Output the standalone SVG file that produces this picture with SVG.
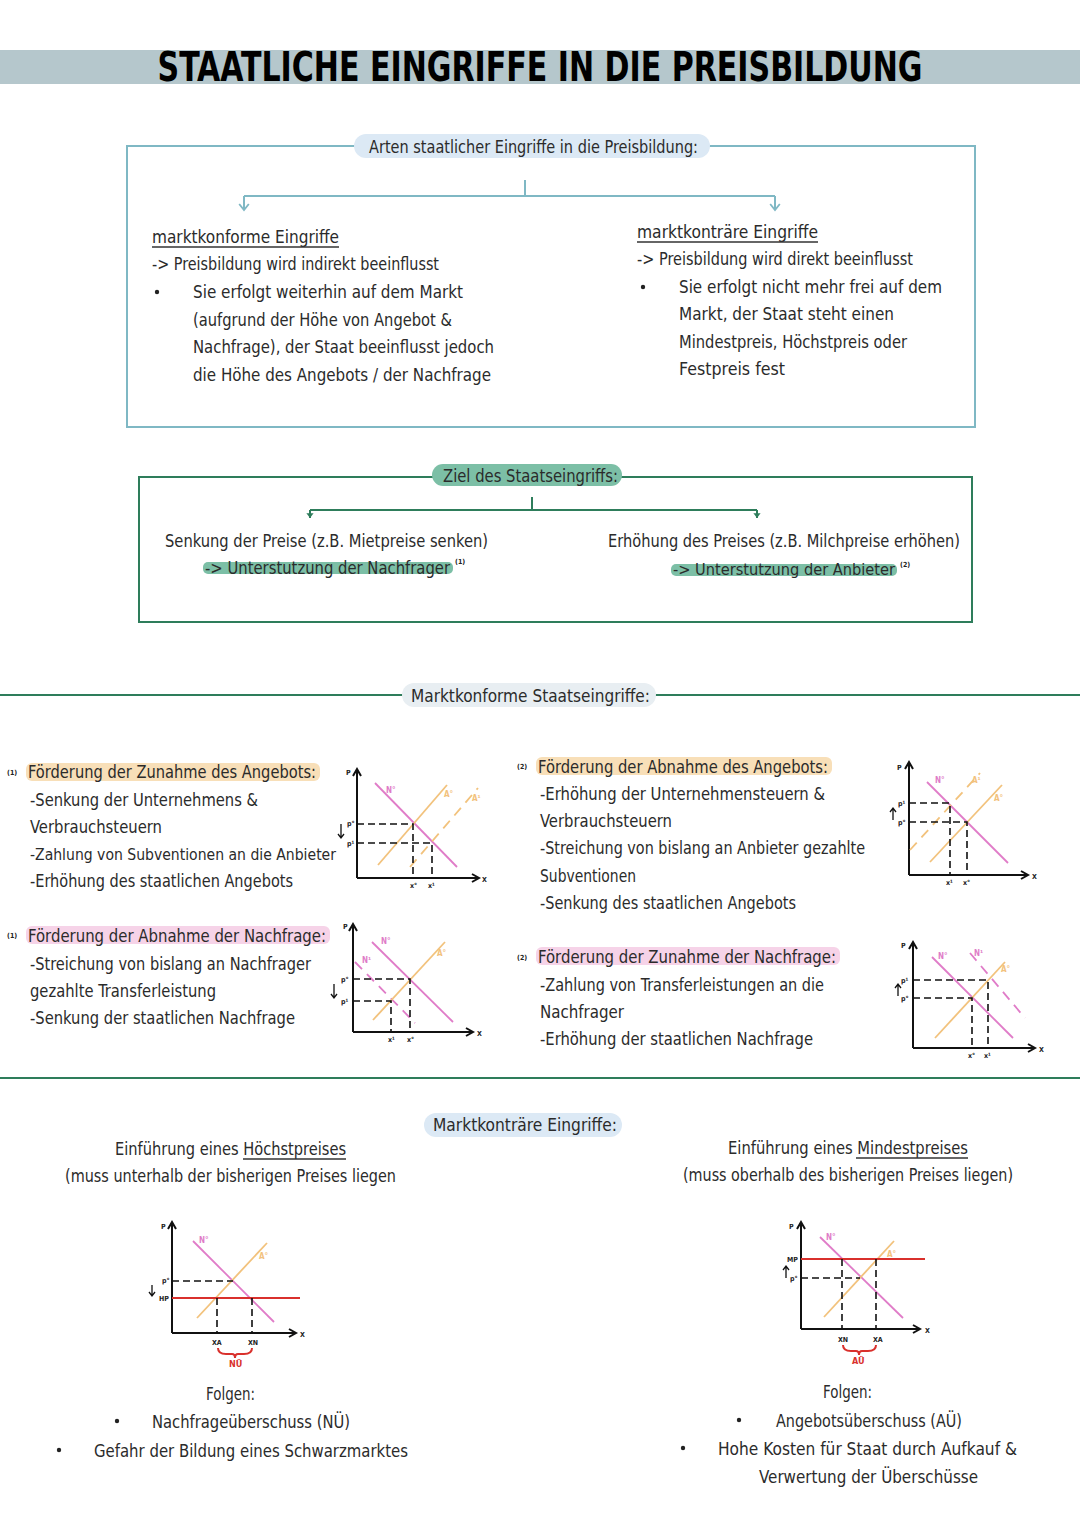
<svg xmlns="http://www.w3.org/2000/svg" width="1080" height="1527" viewBox="0 0 1080 1527">
<defs>
<style>
.t{font-family:"DejaVu Sans Condensed","Liberation Sans",sans-serif;font-size:18px;fill:#2b2b2b}
.t17{font-size:17px}
.t16{font-size:16px}
.s{font-family:"DejaVu Sans Condensed","Liberation Sans",sans-serif;font-size:7px;font-weight:bold;fill:#222}
.sp{font-family:"DejaVu Sans Condensed","Liberation Sans",sans-serif;font-size:8px;font-weight:bold;fill:#e07cc8}
.so{font-family:"DejaVu Sans Condensed","Liberation Sans",sans-serif;font-size:8px;font-weight:bold;fill:#f2c27c}
.ax{fill:none;stroke:#111;stroke-width:2}
.dash{fill:none;stroke:#111;stroke-width:1.6;stroke-dasharray:7 4}
.N{stroke:#e07cc8;stroke-width:1.8;fill:none}
.Nd{stroke:#e07cc8;stroke-width:1.8;fill:none;stroke-dasharray:10 7}
.A{stroke:#f2c27c;stroke-width:1.8;fill:none}
.Ad{stroke:#f2c27c;stroke-width:1.8;fill:none;stroke-dasharray:10 7}
.red{stroke:#d9302c;stroke-width:2;fill:none}
.blue{stroke:#7fb8c4;stroke-width:2;fill:none}
.green{stroke:#2e7d5b;stroke-width:2;fill:none}
.ul{stroke:#333;stroke-width:1.5}
</style>
<marker id="ab" viewBox="0 0 10 10" refX="8" refY="5" markerWidth="6" markerHeight="6" orient="auto"><path d="M3 1 L8 5 L3 9" fill="none" stroke="#7fb8c4" stroke-width="1.5"/></marker>
<marker id="ag" viewBox="0 0 10 10" refX="8" refY="5" markerWidth="6" markerHeight="6" orient="auto"><path d="M4 2 L8 5 L4 8 Z" fill="#2e7d5b"/></marker>
</defs>
<rect width="1080" height="1527" fill="#ffffff"/>

<g id="title">
<rect x="0" y="50" width="1080" height="34" fill="#b5c7cc"/>
<text x="540" y="81" text-anchor="middle" textLength="765" lengthAdjust="spacingAndGlyphs" style="font-family:'DejaVu Sans Condensed','Liberation Sans',sans-serif;font-size:40px;font-weight:bold;fill:#000">STAATLICHE EINGRIFFE IN DIE PREISBILDUNG</text>
</g>

<g id="box-arten">
<rect x="127" y="146" width="848" height="281" class="blue"/>
<rect x="354" y="134" width="356" height="24" rx="12" fill="#dce9f5"/>
<text class="t" x="369" y="153" textLength="329" lengthAdjust="spacingAndGlyphs">Arten staatlicher Eingriffe in die Preisbildung:</text>
</g>

<g id="node-konform">
<text class="t" x="152" y="243" textLength="187" lengthAdjust="spacingAndGlyphs">marktkonforme Eingriffe</text>
<line x1="152" y1="247" x2="339" y2="247" class="ul"/>
<text class="t" x="152" y="270" textLength="287" lengthAdjust="spacingAndGlyphs">-&gt; Preisbildung wird indirekt beeinflusst</text>
<circle cx="157" cy="292" r="2.2" fill="#222"/>
<text class="t" x="193" y="298" textLength="270" lengthAdjust="spacingAndGlyphs">Sie erfolgt weiterhin auf dem Markt</text>
<text class="t" x="193" y="326" textLength="259" lengthAdjust="spacingAndGlyphs">(aufgrund der Höhe von Angebot &amp;</text>
<text class="t" x="193" y="353" textLength="301" lengthAdjust="spacingAndGlyphs">Nachfrage), der Staat beeinflusst jedoch</text>
<text class="t" x="193" y="381" textLength="298" lengthAdjust="spacingAndGlyphs">die Höhe des Angebots / der Nachfrage</text>
</g>

<g id="node-kontraer">
<text class="t" x="637" y="238" textLength="181" lengthAdjust="spacingAndGlyphs">marktkonträre Eingriffe</text>
<line x1="637" y1="242" x2="818" y2="242" class="ul"/>
<text class="t" x="637" y="265" textLength="276" lengthAdjust="spacingAndGlyphs">-&gt; Preisbildung wird direkt beeinflusst</text>
<circle cx="643" cy="287" r="2.2" fill="#222"/>
<text class="t" x="679" y="293" textLength="263" lengthAdjust="spacingAndGlyphs">Sie erfolgt nicht mehr frei auf dem</text>
<text class="t" x="679" y="320" textLength="215" lengthAdjust="spacingAndGlyphs">Markt, der Staat steht einen</text>
<text class="t" x="679" y="348" textLength="228" lengthAdjust="spacingAndGlyphs">Mindestpreis, Höchstpreis oder</text>
<text class="t" x="679" y="375" textLength="106" lengthAdjust="spacingAndGlyphs">Festpreis fest</text>
</g>

<g id="box-ziel">
<rect x="139" y="477" width="833" height="145" class="green"/>
<rect x="432" y="464" width="190" height="22" rx="11" fill="#7cbfa6"/>
<text class="t" x="443" y="482" textLength="175" lengthAdjust="spacingAndGlyphs">Ziel des Staatseingriffs:</text>
</g>

<g id="node-senkung">
<text class="t" x="165" y="547" textLength="323" lengthAdjust="spacingAndGlyphs">Senkung der Preise (z.B. Mietpreise senken)</text>
<rect x="203" y="562" width="250" height="12" rx="5" fill="#7cbfa6"/>
<text class="t t17" x="205" y="574" textLength="245" lengthAdjust="spacingAndGlyphs">-&gt; Unterstutzung der Nachfrager</text>
<text class="s" x="455" y="564">(1)</text>
</g>

<g id="node-erhoehung">
<text class="t" x="608" y="547" textLength="352" lengthAdjust="spacingAndGlyphs">Erhöhung des Preises (z.B. Milchpreise erhöhen)</text>
<rect x="671" y="564" width="226" height="12" rx="5" fill="#7cbfa6"/>
<text class="t t16" x="673" y="575" textLength="222" lengthAdjust="spacingAndGlyphs">-&gt; Unterstutzung der Anbieter</text>
<text class="s" x="900" y="567">(2)</text>
</g>

<g id="connectors">
<path d="M525 180 V196 M244 196 H775" class="blue" stroke-width="1.5"/>
<line x1="244" y1="196" x2="244" y2="210" class="blue" stroke-width="1.5" marker-end="url(#ab)"/>
<line x1="775" y1="196" x2="775" y2="210" class="blue" stroke-width="1.5" marker-end="url(#ab)"/>
<path d="M532 497 V510 M310 510 H757" class="green" stroke-width="1.5"/>
<line x1="310" y1="510" x2="310" y2="518" class="green" stroke-width="1.5" marker-end="url(#ag)"/>
<line x1="757" y1="510" x2="757" y2="518" class="green" stroke-width="1.5" marker-end="url(#ag)"/>
</g>

<g id="section-konform">
<line x1="0" y1="695" x2="1080" y2="695" class="green" stroke-width="1.5"/>
<rect x="402" y="683" width="254" height="24" rx="12" fill="#e8eef2"/>
<text class="t" x="411" y="702" textLength="239" lengthAdjust="spacingAndGlyphs">Marktkonforme Staatseingriffe:</text>
<line x1="0" y1="1078" x2="1080" y2="1078" class="green" stroke-width="1.5"/>
</g>

<g id="node-zunahme-angebot">
<text class="s" x="7" y="775">(1)</text>
<rect x="26" y="763" width="294" height="18" rx="6" fill="#f8dfb8"/>
<text class="t" x="28" y="778" textLength="288" lengthAdjust="spacingAndGlyphs">Förderung der Zunahme des Angebots:</text>
<text class="t" x="30" y="806" textLength="228" lengthAdjust="spacingAndGlyphs">-Senkung der Unternehmens &amp;</text>
<text class="t" x="30" y="833" textLength="132" lengthAdjust="spacingAndGlyphs">Verbrauchsteuern</text>
<text class="t t16" x="30" y="860" textLength="306" lengthAdjust="spacingAndGlyphs">-Zahlung von Subventionen an die Anbieter</text>
<text class="t" x="30" y="887" textLength="263" lengthAdjust="spacingAndGlyphs">-Erhöhung des staatlichen Angebots</text>
</g>

<g id="graph-1">
<path d="M357 878 V770 M353 776 L357 769 L361 776 M357 878 H478 M472 874 L479 878 L472 882" class="ax"/>
<text class="s" x="346" y="775">P</text>
<text class="s" x="482" y="882">X</text>
<line x1="375" y1="783" x2="457" y2="867" class="N"/>
<text class="sp" x="386" y="793">N°</text>
<line x1="378" y1="865" x2="447" y2="785" class="A"/>
<text class="so" x="444" y="797">A°</text>
<line x1="410" y1="867" x2="478" y2="788" class="Ad"/>
<text class="so" x="472" y="801">A¹</text>
<path d="M357 824 H413 V878 M357 843 H432 V878" class="dash"/>
<text class="s" x="347" y="826">p°</text>
<text class="s" x="347" y="846">p¹</text>
<text class="s" x="410" y="888">x°</text>
<text class="s" x="428" y="888">x¹</text>
<path d="M341 824 V838 M338 834 L341 838 L344 834" stroke="#111" stroke-width="1.3" fill="none"/>
</g>

<g id="node-abnahme-angebot">
<text class="s" x="517" y="769">(2)</text>
<rect x="536" y="757" width="296" height="18" rx="6" fill="#f8dfb8"/>
<text class="t" x="538" y="773" textLength="290" lengthAdjust="spacingAndGlyphs">Förderung der Abnahme des Angebots:</text>
<text class="t" x="540" y="800" textLength="285" lengthAdjust="spacingAndGlyphs">-Erhöhung der Unternehmensteuern &amp;</text>
<text class="t" x="540" y="827" textLength="132" lengthAdjust="spacingAndGlyphs">Verbrauchsteuern</text>
<text class="t" x="540" y="854" textLength="325" lengthAdjust="spacingAndGlyphs">-Streichung von bislang an Anbieter gezahlte</text>
<text class="t" x="540" y="882" textLength="96" lengthAdjust="spacingAndGlyphs">Subventionen</text>
<text class="t" x="540" y="909" textLength="256" lengthAdjust="spacingAndGlyphs">-Senkung des staatlichen Angebots</text>
</g>

<g id="graph-2">
<path d="M909 875 V763 M905 769 L909 762 L913 769 M909 875 H1027 M1021 871 L1028 875 L1021 879" class="ax"/>
<text class="s" x="897" y="770">P</text>
<text class="s" x="1032" y="879">X</text>
<line x1="927" y1="782" x2="1008" y2="863" class="N"/>
<text class="sp" x="935" y="783">N°</text>
<line x1="930" y1="862" x2="1002" y2="785" class="A"/>
<text class="so" x="994" y="801">A°</text>
<line x1="910" y1="850" x2="980" y2="773" class="Ad"/>
<text class="so" x="972" y="783">A¹</text>
<path d="M909 803 H950 V875 M909 822 H967 V875" class="dash"/>
<text class="s" x="898" y="806">p¹</text>
<text class="s" x="898" y="825">p°</text>
<text class="s" x="946" y="885">x¹</text>
<text class="s" x="963" y="885">x°</text>
<path d="M893 820 V808 M890 812 L893 808 L896 812" stroke="#111" stroke-width="1.3" fill="none"/>
</g>

<g id="node-abnahme-nachfrage">
<text class="s" x="7" y="938">(1)</text>
<rect x="26" y="926" width="304" height="18" rx="6" fill="#f6d3e8"/>
<text class="t t17" x="28" y="942" textLength="298" lengthAdjust="spacingAndGlyphs">Förderung der Abnahme der Nachfrage:</text>
<text class="t" x="30" y="970" textLength="281" lengthAdjust="spacingAndGlyphs">-Streichung von bislang an Nachfrager</text>
<text class="t" x="30" y="997" textLength="186" lengthAdjust="spacingAndGlyphs">gezahlte Transferleistung</text>
<text class="t" x="30" y="1024" textLength="265" lengthAdjust="spacingAndGlyphs">-Senkung der staatlichen Nachfrage</text>
</g>

<g id="graph-3">
<path d="M353 1032 V925 M349 931 L353 924 L357 931 M353 1032 H472 M466 1028 L473 1032 L466 1036" class="ax"/>
<text class="s" x="343" y="929">P</text>
<text class="s" x="477" y="1036">X</text>
<line x1="372" y1="942" x2="453" y2="1022" class="N"/>
<text class="sp" x="381" y="944">N°</text>
<line x1="355" y1="962" x2="415" y2="1023" class="Nd"/>
<text class="sp" x="362" y="963">N¹</text>
<line x1="373" y1="1020" x2="445" y2="942" class="A"/>
<text class="so" x="437" y="956">A°</text>
<path d="M353 979 H410 V1032 M353 1001 H391 V1032" class="dash"/>
<text class="s" x="341" y="982">p°</text>
<text class="s" x="341" y="1004">p¹</text>
<text class="s" x="388" y="1042">x¹</text>
<text class="s" x="407" y="1042">x°</text>
<path d="M334 984 V998 M331 994 L334 998 L337 994" stroke="#111" stroke-width="1.3" fill="none"/>
</g>

<g id="node-zunahme-nachfrage">
<text class="s" x="517" y="960">(2)</text>
<rect x="536" y="947" width="304" height="18" rx="6" fill="#f6d3e8"/>
<text class="t" x="538" y="963" textLength="298" lengthAdjust="spacingAndGlyphs">Förderung der Zunahme der Nachfrage:</text>
<text class="t" x="540" y="991" textLength="284" lengthAdjust="spacingAndGlyphs">-Zahlung von Transferleistungen an die</text>
<text class="t" x="540" y="1018" textLength="84" lengthAdjust="spacingAndGlyphs">Nachfrager</text>
<text class="t" x="540" y="1045" textLength="273" lengthAdjust="spacingAndGlyphs">-Erhöhung der staatlichen Nachfrage</text>
</g>

<g id="graph-4">
<path d="M913 1048 V943 M909 949 L913 942 L917 949 M913 1048 H1034 M1028 1044 L1035 1048 L1028 1052" class="ax"/>
<text class="s" x="901" y="948">P</text>
<text class="s" x="1039" y="1052">X</text>
<line x1="932" y1="957" x2="1013" y2="1038" class="N"/>
<text class="sp" x="938" y="959">N°</text>
<line x1="970" y1="953" x2="1025" y2="1018" class="Nd"/>
<text class="sp" x="974" y="956">N¹</text>
<line x1="935" y1="1038" x2="1005" y2="962" class="A"/>
<text class="so" x="1001" y="972">A°</text>
<path d="M913 980 H988 V1048 M913 998 H972 V1048" class="dash"/>
<text class="s" x="901" y="983">p¹</text>
<text class="s" x="901" y="1001">p°</text>
<text class="s" x="968" y="1058">x°</text>
<text class="s" x="984" y="1058">x¹</text>
<path d="M898 996 V984 M895 988 L898 984 L901 988" stroke="#111" stroke-width="1.3" fill="none"/>
</g>

<g id="node-kontraer-title">
<rect x="424" y="1113" width="198" height="24" rx="12" fill="#dce9f5"/>
<text class="t" x="433" y="1131" textLength="184" lengthAdjust="spacingAndGlyphs">Marktkonträre Eingriffe:</text>
</g>

<g id="node-hoechstpreis">
<text class="t" x="115" y="1155" textLength="231" lengthAdjust="spacingAndGlyphs">Einführung eines Höchstpreises</text>
<line x1="243" y1="1159" x2="346" y2="1159" class="ul"/>
<text class="t" x="65" y="1182" textLength="331" lengthAdjust="spacingAndGlyphs">(muss unterhalb der bisherigen Preises liegen</text>
<text class="t" x="206" y="1400" textLength="49" lengthAdjust="spacingAndGlyphs">Folgen:</text>
<circle cx="117" cy="1421" r="2.2" fill="#222"/>
<text class="t" x="152" y="1428" textLength="198" lengthAdjust="spacingAndGlyphs">Nachfrageüberschuss (NÜ)</text>
<circle cx="59" cy="1450" r="2.2" fill="#222"/>
<text class="t" x="94" y="1457" textLength="314" lengthAdjust="spacingAndGlyphs">Gefahr der Bildung eines Schwarzmarktes</text>
</g>

<g id="graph-5">
<path d="M172 1333 V1223 M168 1229 L172 1222 L176 1229 M172 1333 H295 M289 1329 L296 1333 L289 1337" class="ax"/>
<text class="s" x="161" y="1229">P</text>
<text class="s" x="300" y="1337">X</text>
<line x1="193" y1="1241" x2="274" y2="1322" class="N"/>
<text class="sp" x="199" y="1243">N°</text>
<line x1="197" y1="1318" x2="267" y2="1243" class="A"/>
<text class="so" x="259" y="1259">A°</text>
<path d="M172 1281 H233" class="dash"/>
<line x1="172" y1="1298" x2="300" y2="1298" class="red"/>
<path d="M217 1298 V1333 M252 1298 V1333" class="dash"/>
<text class="s" x="162" y="1283">p°</text>
<text class="s" x="159" y="1301">HP</text>
<path d="M152 1285 V1296 M149 1292 L152 1296 L155 1292" stroke="#111" stroke-width="1.3" fill="none"/>
<text class="s" x="212" y="1345">XA</text>
<text class="s" x="248" y="1345">XN</text>
<path d="M218 1348 Q218 1354 226 1354 L232 1354 Q235 1354 235 1358 Q235 1354 238 1354 L244 1354 Q252 1354 252 1348" class="red" stroke-width="1.6"/>
<text x="229" y="1367" style="font-family:'DejaVu Sans Condensed',sans-serif;font-size:9px;font-weight:bold;fill:#d9302c">NÜ</text>
</g>

<g id="node-mindestpreis">
<text class="t" x="728" y="1154" textLength="240" lengthAdjust="spacingAndGlyphs">Einführung eines Mindestpreises</text>
<line x1="856" y1="1158" x2="968" y2="1158" class="ul"/>
<text class="t" x="683" y="1181" textLength="330" lengthAdjust="spacingAndGlyphs">(muss oberhalb des bisherigen Preises liegen)</text>
<text class="t" x="823" y="1398" textLength="49" lengthAdjust="spacingAndGlyphs">Folgen:</text>
<circle cx="739" cy="1420" r="2.2" fill="#222"/>
<text class="t" x="776" y="1427" textLength="186" lengthAdjust="spacingAndGlyphs">Angebotsüberschuss (AÜ)</text>
<circle cx="683" cy="1448" r="2.2" fill="#222"/>
<text class="t" x="718" y="1455" textLength="299" lengthAdjust="spacingAndGlyphs">Hohe Kosten für Staat durch Aufkauf &amp;</text>
<text class="t" x="759" y="1483" textLength="219" lengthAdjust="spacingAndGlyphs">Verwertung der Überschüsse</text>
</g>

<g id="graph-6">
<path d="M801 1329 V1223 M797 1229 L801 1222 L805 1229 M801 1329 H919 M913 1325 L920 1329 L913 1333" class="ax"/>
<text class="s" x="789" y="1229">P</text>
<text class="s" x="925" y="1333">X</text>
<line x1="820" y1="1237" x2="903" y2="1318" class="N"/>
<text class="sp" x="826" y="1240">N°</text>
<line x1="824" y1="1317" x2="894" y2="1241" class="A"/>
<text class="so" x="887" y="1257">A°</text>
<line x1="801" y1="1259" x2="925" y2="1259" class="red"/>
<path d="M801 1278 H860" class="dash"/>
<path d="M842 1259 V1329 M876 1259 V1329" class="dash"/>
<text class="s" x="787" y="1262">MP</text>
<text class="s" x="790" y="1281">p°</text>
<path d="M786 1278 V1266 M783 1270 L786 1266 L789 1270" stroke="#111" stroke-width="1.3" fill="none"/>
<text class="s" x="838" y="1342">XN</text>
<text class="s" x="873" y="1342">XA</text>
<path d="M843 1345 Q843 1351 851 1351 L856 1351 Q859 1351 859 1355 Q859 1351 862 1351 L868 1351 Q876 1351 876 1345" class="red" stroke-width="1.6"/>
<text x="852" y="1364" style="font-family:'DejaVu Sans Condensed',sans-serif;font-size:9px;font-weight:bold;fill:#d9302c">AÜ</text>
</g>
</svg>
